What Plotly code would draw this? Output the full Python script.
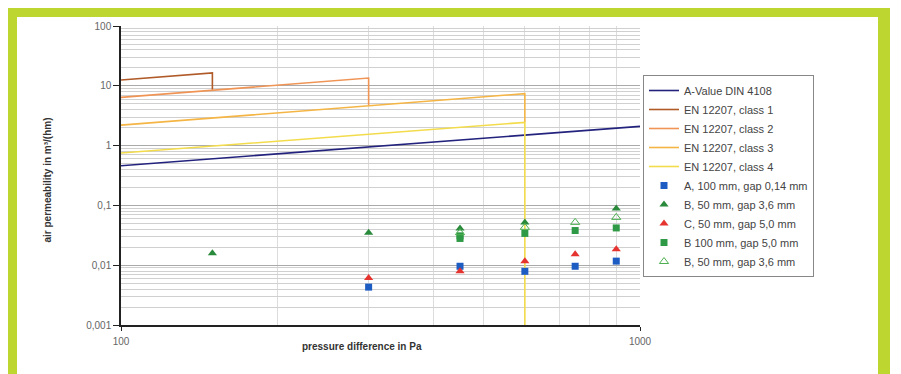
import plotly.graph_objects as go

# ---------------- data ----------------
pressure_din = [100, 300, 600, 1000]
a_value_din = [0.46, 0.95, 1.5, 2.1]

class1_x = [100, 150, 150]
class1_y = [12.5, 16.4, 8.6]
class2_x = [100, 300, 300]
class2_y = [6.4, 13.5, 4.7]
class3_x = [100, 600, 600]
class3_y = [2.2, 7.4, 2.45]
class4_x = [100, 600, 600]
class4_y = [0.75, 2.45, 0.001]

a100_x = [300, 450, 600, 750, 900]
a100_y = [0.0043, 0.0096, 0.0079, 0.0096, 0.0117]
b50_x = [150, 300, 450, 600, 900]
b50_y = [0.0158, 0.035, 0.041, 0.052, 0.089]
c50_x = [300, 450, 600, 750, 900]
c50_y = [0.0061, 0.0079, 0.0116, 0.0152, 0.0185]
b100_x = [450, 450, 600, 750, 900]
b100_y = [0.031, 0.028, 0.034, 0.038, 0.042]
b50o_x = [450, 600, 750, 900]
b50o_y = [0.035, 0.043, 0.052, 0.063]

y_tickvals = [0.001, 0.01, 0.1, 1, 10, 100]
y_ticktext = ["0,001", "0,01", "0,1", "1", "10", "100"]
x_tickvals = [100, 1000]
x_ticktext = ["100", "1000"]
x_minor = [200, 300, 400, 500, 600, 700, 800, 900]

# ---------------- figure ----------------
OFF = 8  # page body margin
W, H = 901 - OFF, 374 - OFF
# plot area in screenshot pixels
L, R, T, B = 121, 640, 26, 325


def px(x):
    return (x - L) / (R - L)


def py(y):
    return (B - y) / (B - T)


FONT = "Liberation Sans, Arial, sans-serif"
fig = go.Figure()

line_traces = [
    (pressure_din, a_value_din, "A-Value DIN 4108", "#23237e"),
    (class1_x, class1_y, "EN 12207, class 1", "#b05a28"),
    (class2_x, class2_y, "EN 12207, class 2", "#ef9455"),
    (class3_x, class3_y, "EN 12207, class 3", "#f5b545"),
    (class4_x, class4_y, "EN 12207, class 4", "#f3dc4c"),
]
for xs, ys, name, col in line_traces:
    fig.add_trace(go.Scatter(x=xs, y=ys, name=name, mode="lines",
                             line=dict(color=col, width=1.6)))

marker_traces = [
    (a100_x, a100_y, "A, 100 mm, gap 0,14 mm", "square", "#1d5cc2", 7),
    (b50_x, b50_y, "B, 50 mm, gap 3,6 mm", "triangle-up", "#2a8a3c", 8),
    (c50_x, c50_y, "C, 50 mm, gap 5,0 mm", "triangle-up", "#e5332f", 8),
    (b100_x, b100_y, "B 100 mm, gap 5,0 mm", "square", "#2f9a46", 7),
    (b50o_x, b50o_y, "B, 50 mm, gap 3,6 mm", "triangle-up-open", "#4caf50", 8),
]
for xs, ys, name, sym, col, sz in marker_traces:
    fig.add_trace(go.Scatter(x=xs, y=ys, name=name, mode="markers",
                             marker=dict(symbol=sym, color=col, size=sz,
                                         line=dict(width=1 if "open" in sym else 0, color=col))))

green = "#bdd630"
shapes = []
for x0, x1, y0, y1 in [(8, 890, 8, 17), (8, 17, 8, 380), (878, 890, 8, 380)]:
    shapes.append(dict(type="rect", xref="paper", yref="paper",
                       x0=px(x0), x1=px(x1), y0=py(y1), y1=py(y0),
                       fillcolor=green, line=dict(width=0), layer="above"))

fig.update_layout(
    width=W, height=H,
    margin=dict(l=L - OFF, r=901 - R, t=T - OFF, b=374 - B, autoexpand=False),
    paper_bgcolor="white", plot_bgcolor="white",
    font=dict(family=FONT, size=10, color="#666"),
    showlegend=True,
    legend=dict(x=px(643), y=py(75), xanchor="left", yanchor="top",
                bordercolor="#888", borderwidth=1, bgcolor="white",
                font=dict(size=11, color="#444"), tracegroupgap=0),
    shapes=shapes,
    xaxis=dict(type="log", range=[2, 3], tickvals=x_tickvals, ticktext=x_ticktext,
               showgrid=True, gridcolor="#d8d8d8", gridwidth=1,
               showline=True, linecolor="#222", linewidth=1.5,
               ticks="outside", ticklen=4, tickcolor="#222",
               ticklabelstandoff=2,
               minor=dict(tickvals=x_minor, showgrid=True, gridcolor="#dcdcdc",
                          gridwidth=1, ticks=""),
               zeroline=False, fixedrange=True),
    yaxis=dict(type="log", range=[-3, 2], tickvals=y_tickvals, ticktext=y_ticktext,
               showgrid=True, gridcolor="#aaaaaa", gridwidth=1,
               showline=True, linecolor="#222", linewidth=1.5,
               ticks="outside", ticklen=6, tickcolor="#222",
               minor=dict(dtick="D1", showgrid=True, gridcolor="#d0d0d0",
                          gridwidth=1, ticks=""),
               zeroline=False, fixedrange=True),
    annotations=[
        dict(text="<b>air permeability in m³/(hm)</b>", xref="paper", yref="paper",
             x=px(39), y=py(180), textangle=-90, showarrow=False,
             font=dict(size=10, color="#333", family=FONT)),
        dict(text="<b>pressure difference in Pa</b>", xref="paper", yref="paper",
             x=px(362), y=py(354), showarrow=False,
             font=dict(size=10, color="#333", family=FONT)),
    ],
)

fig.write_html("out.html")
